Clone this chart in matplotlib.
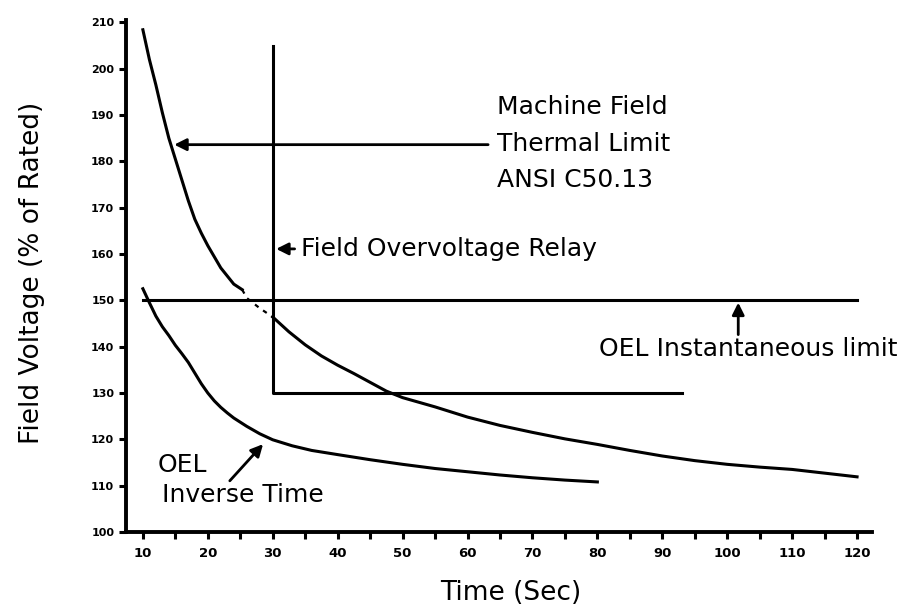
import numpy as np
import matplotlib.pyplot as plt

# ANSI C50.13 machine field thermal limit
thermal_t = [10, 11, 12, 13, 14, 15, 16, 17, 18, 19, 20, 22, 24, 25.3,
             26, 28, 30, 32.5, 35, 37.5, 40, 42.5, 45, 47.5, 50, 55, 60, 65, 70,
             75, 80, 85, 90, 95, 100, 105, 110, 115, 120]
thermal_v = [208.4, 202.0, 196.5, 190.5, 185.0, 180.5, 176.0, 171.5, 167.5, 164.5,
             161.8, 157.0, 153.5, 152.3, 150.5, 148.3, 146.4, 143.2, 140.4, 138.0,
             136.0, 134.2, 132.3, 130.4, 129.0, 127.0, 124.8, 123.0, 121.5, 120.1,
             118.9, 117.6, 116.4, 115.4, 114.6, 114.0, 113.5, 112.7, 111.9]

# OEL inverse time curve
oel_t = [10, 11, 12, 13, 14, 15, 16, 17, 18, 19, 20, 21, 22, 23, 24, 26, 28, 30,
         33, 36, 40, 45, 50, 55, 60, 65, 70, 75, 80]
oel_v = [152.5, 149.5, 146.6, 144.3, 142.4, 140.3, 138.5, 136.6, 134.3, 132.0,
         130.0, 128.3, 126.9, 125.7, 124.6, 122.8, 121.2, 119.9, 118.6, 117.6,
         116.7, 115.6, 114.6, 113.7, 113.0, 112.3, 111.7, 111.2, 110.8]

# field overvoltage relay (vertical at 30 s, then 130 %)
relay_t = [30, 30, 93]
relay_v = [205, 130, 130]

# OEL instantaneous limit
inst_t = [10, 120]
inst_v = [150, 150]

xticks = [10, 20, 30, 40, 50, 60, 70, 80, 90, 100, 110, 120]
yticks = [100, 110, 120, 130, 140, 150, 160, 170, 180, 190, 200, 210]

plt.rcParams['font.family'] = ['DejaVu Sans']

fig = plt.figure(figsize=(9.15, 6.07), dpi=100)
ax = fig.add_axes([0.1377, 0.1236, 0.8153, 0.8434])

lw = 2.2
# the thermal curve is broken (dotted) where it crosses the 150 % line
i1 = thermal_t.index(25.3)
i2 = thermal_t.index(30)
ax.plot(thermal_t[:i1 + 1], thermal_v[:i1 + 1], color='black', lw=lw)
ax.plot(thermal_t[i1:i2 + 1], thermal_v[i1:i2 + 1], color='black', lw=1.6,
        ls=(0, (2, 2.5)))
ax.plot(thermal_t[i2:], thermal_v[i2:], color='black', lw=lw)
ax.plot(oel_t, oel_v, color='black', lw=lw)
ax.plot(relay_t, relay_v, color='black', lw=lw)
ax.plot(inst_t, inst_v, color='black', lw=lw)

ax.set_xlim(7.4, 122.3)
ax.set_ylim(100, 210.5)
ax.set_xticks(xticks)
ax.set_xticks(np.arange(15, 121, 10), minor=True)
ax.set_yticks(yticks)
ax.set_xticklabels([str(t) for t in xticks], fontsize=9.5, fontweight='bold')
ax.set_yticklabels([str(t) for t in yticks], fontsize=8, fontweight='bold')
ax.tick_params(axis='both', which='major', length=5, width=2.2, direction='out')
ax.tick_params(axis='x', which='major', pad=6)
ax.tick_params(axis='x', which='minor', length=5, width=2.2, direction='out')

for s in ['top', 'right']:
    ax.spines[s].set_visible(False)
for s in ['left', 'bottom']:
    ax.spines[s].set_linewidth(2.8)

ax.set_xlabel('Time (Sec)', fontsize=19)
ax.set_ylabel('Field Voltage (% of Rated)', fontsize=19)
ax.xaxis.set_label_coords(0.516, -0.094)
ax.yaxis.set_label_coords(-0.108, 0.506)

arrow = dict(arrowstyle='-|>', color='black', lw=2.0, mutation_scale=18)
fs = 18

# Machine field thermal limit label
ax.text(64.5, 191.8, 'Machine Field', fontsize=fs, va='center', ha='left')
ax.text(64.5, 183.8, 'Thermal Limit', fontsize=fs, va='center', ha='left')
ax.text(64.5, 176.0, 'ANSI C50.13', fontsize=fs, va='center', ha='left')
ax.annotate('', xy=(14.4, 183.6), xytext=(63.6, 183.6), arrowprops=arrow)

# field overvoltage relay label
ax.text(34.3, 161.1, 'Field Overvoltage Relay', fontsize=fs, va='center', ha='left')
ax.annotate('', xy=(30.1, 161.1), xytext=(33.8, 161.1), arrowprops=arrow)

# OEL instantaneous limit label
ax.text(103.2, 139.4, 'OEL Instantaneous limit', fontsize=fs, va='center', ha='center')
ax.annotate('', xy=(101.7, 150.1), xytext=(101.7, 142.0), arrowprops=arrow)

# OEL inverse time label
ax.text(12.2, 114.5, 'OEL', fontsize=fs, va='center', ha='left')
ax.text(12.9, 108.0, 'Inverse Time', fontsize=fs, va='center', ha='left')
ax.annotate('', xy=(28.8, 119.4), xytext=(23.1, 110.6), arrowprops=arrow)

fig.savefig('out.png', dpi=100)
